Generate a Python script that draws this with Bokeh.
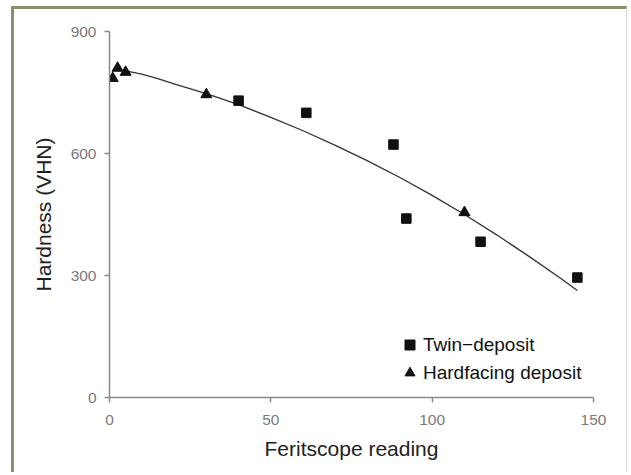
from bokeh.plotting import figure
from bokeh.models import Range1d, FixedTicker, Legend, LegendItem
from bokeh.embed import file_html
from bokeh.resources import INLINE

# Data
twin_x = [40, 61, 88, 92, 115, 145]
twin_y = [730, 700, 622, 440, 383, 295]
hard_x = [1, 2.5, 5, 30, 110]
hard_y = [785, 810, 800, 745, 455]
fit_x = [5, 10, 15, 20, 30, 40, 50, 60, 70, 80, 90, 100, 110, 120, 130, 140, 145]
fit_y = [803, 795, 784, 771, 747, 720, 689, 656, 620, 582, 541, 497, 450, 400, 347, 292, 263]
x_ticks = [0, 50, 100, 150]
y_ticks = [0, 300, 600, 900]

FONT = "Liberation Sans"

p = figure(width=616, height=466, output_backend="svg", toolbar_location=None,
           x_range=Range1d(0, 150), y_range=Range1d(0, 900),
           min_border_left=95, min_border_right=37, min_border_top=22, min_border_bottom=78)
p.styles = {"margin-left": "11px", "margin-top": "6px",
            "border-left": "3px solid #8f8d6d", "border-top": "3px solid #8f8d6d",
            "border-right": "1px solid #d6d6d6"}
p.grid.visible = False
p.outline_line_color = None
p.background_fill_color = "white"
p.border_fill_color = "white"

for ax in (p.xaxis[0], p.yaxis[0]):
    ax.axis_line_color = "#8a8a8a"
    ax.axis_line_width = 1.5
    ax.major_tick_line_color = "#8a8a8a"
    ax.major_tick_line_width = 1.5
    ax.major_tick_out = 5
    ax.major_tick_in = 0
    ax.minor_tick_line_color = None
    ax.major_label_text_font = FONT
    ax.major_label_text_font_size = "15.5px"
    ax.major_label_text_color = "#7a7a7a"
    ax.axis_label_text_font = FONT
    ax.axis_label_text_font_size = "21px"
    ax.axis_label_text_font_style = "normal"
    ax.axis_label_text_color = "#222222"

p.xaxis.ticker = FixedTicker(ticks=x_ticks)
p.yaxis.ticker = FixedTicker(ticks=y_ticks)
p.xaxis.axis_label = "Feritscope reading"
p.yaxis.axis_label = "Hardness (VHN)"
p.xaxis.major_label_standoff = 12
p.yaxis.major_label_standoff = 8
p.xaxis.axis_label_standoff = 9
p.yaxis.axis_label_standoff = 13

line = p.line(fit_x, fit_y, line_color="#333333", line_width=1.3)
sq = p.scatter(twin_x, twin_y, marker="square", size=9.5, fill_color="#111111", line_color="#111111")
tr = p.scatter(hard_x, hard_y, marker="triangle", size=11, fill_color="#111111", line_color="#111111")

legend = Legend(items=[LegendItem(label="Twin\u2212deposit", renderers=[sq]),
                       LegendItem(label="Hardfacing deposit", renderers=[tr])],
                location=(288, 12), orientation="vertical",
                glyph_width=25, glyph_height=25, label_standoff=1,
                padding=0, margin=0, spacing=3,
                label_text_font=FONT, label_text_font_size="19px", label_text_color="#111111",
                background_fill_alpha=0, border_line_alpha=0)
p.add_layout(legend, "center")

open("out.html", "w").write(file_html(p, INLINE))
